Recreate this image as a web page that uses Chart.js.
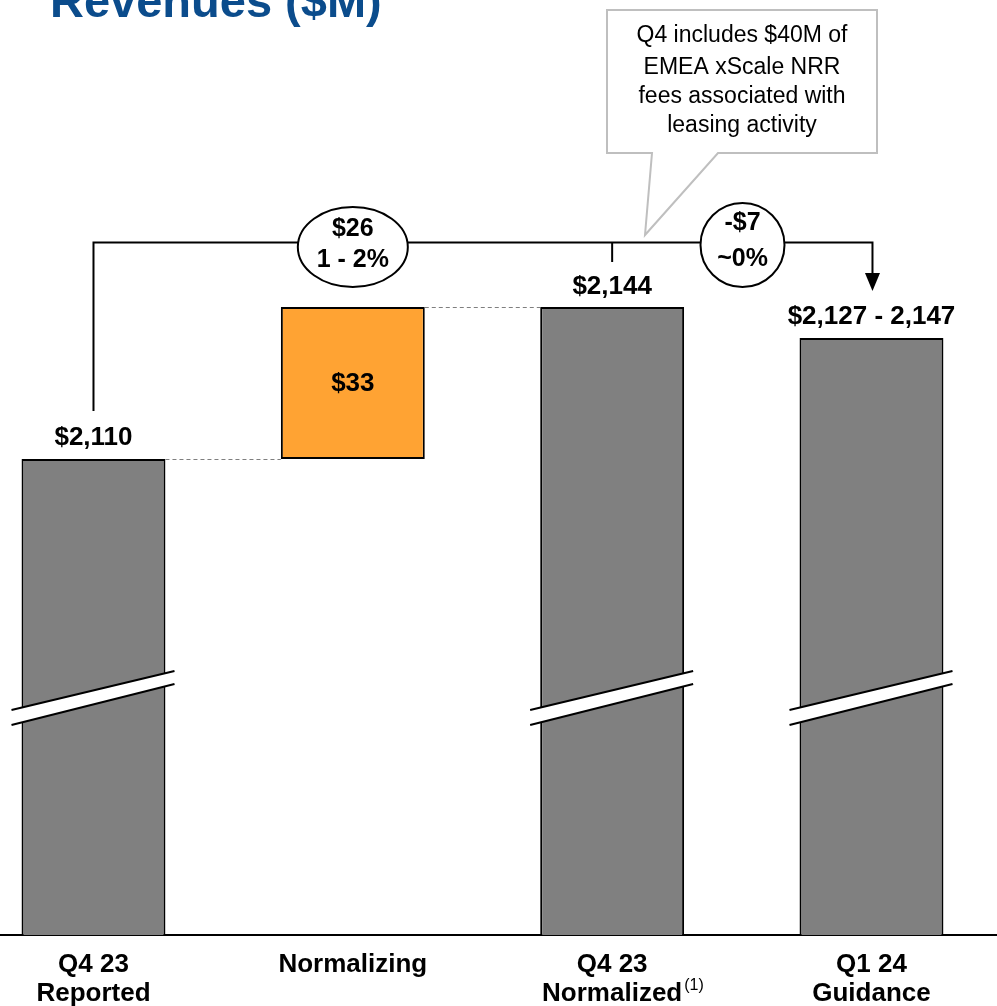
<!DOCTYPE html>
<html>
<head>
<meta charset="utf-8">
<title>Revenues ($M)</title>
<script src="https://cdn.jsdelivr.net/npm/chart.js@4.4.1/dist/chart.umd.min.js"></script>
<style>
  html, body { margin: 0; padding: 0; background: #ffffff; }
  canvas { display: block; }
</style>
</head>
<body>
<canvas id="rev" width="997" height="1006"></canvas>
<script>
// Bridge categories (multi-line labels)
const categoryLabels = [['Q4 23', 'Reported'], ['Normalizing'], ['Q4 23', 'Normalized'], ['Q1 24', 'Guidance']];
// Bar values in $M; the normalizing step floats between the two Q4 totals
const barValues = [2110.4, [2110.4, 2143.8], 2143.8, 2137];
const barColors = ['#808080', '#FFA333', '#808080', '#808080'];
// Guidance range shown above the last bar
const guidanceRange = [2127, 2147];
// Change bubbles on the bridge line
const changeLabels = [['$26', '1 - 2%'], ['-$7', '~0%']];
const calloutLines = ['Q4 includes $40M of', 'EMEA xScale NRR', 'fees associated with', 'leasing activity'];
const brokenBars = [0, 2, 3];

const FONT = '"Liberation Sans", Arial, Helvetica, sans-serif';
const fmt = v => '$' + Math.round(v).toLocaleString('en-US');

const overlay = {
  id: 'bridgeOverlay',
  afterDatasetsDraw(chart) {
    const ctx = chart.ctx;
    const bars = chart.getDatasetMeta(0).data;
    const y = chart.scales.y;
    const area = chart.chartArea;
    ctx.save();

    // dashed connectors between consecutive bar tops
    ctx.strokeStyle = '#7f7f7f';
    ctx.lineWidth = 1;
    ctx.setLineDash([4, 3]);
    const conn = (a, b, v) => {
      const py = Math.round(y.getPixelForValue(v)) + 0.5;
      ctx.beginPath();
      ctx.moveTo(bars[a].x + bars[a].width / 2, py);
      ctx.lineTo(bars[b].x - bars[b].width / 2, py);
      ctx.stroke();
    };
    conn(0, 1, barValues[0]);
    conn(1, 2, barValues[1][1]);
    ctx.setLineDash([]);

    // axis-break marks across the tall bars
    brokenBars.forEach(i => {
      const cx = bars[i].x;
      const xl = cx - 82, xr = cx + 81;
      ctx.beginPath();
      ctx.moveTo(xl, 710); ctx.lineTo(xr, 671); ctx.lineTo(xr, 684); ctx.lineTo(xl, 725);
      ctx.closePath();
      ctx.fillStyle = '#ffffff';
      ctx.fill();
      ctx.strokeStyle = '#000000';
      ctx.lineWidth = 2;
      ctx.beginPath(); ctx.moveTo(xl, 710); ctx.lineTo(xr, 671); ctx.stroke();
      ctx.beginPath(); ctx.moveTo(xl, 725); ctx.lineTo(xr, 684); ctx.stroke();
    });

    // value labels
    ctx.fillStyle = '#000000';
    ctx.font = 'bold 26px ' + FONT;
    ctx.textAlign = 'center';
    ctx.textBaseline = 'middle';
    ctx.fillText(fmt(barValues[0]), bars[0].x, bars[0].y - 21);
    ctx.fillText(fmt(barValues[1][1] - barValues[1][0]), bars[1].x, (bars[1].y + bars[1].base) / 2 + 1);
    ctx.fillText(fmt(barValues[2]), bars[2].x, bars[2].y - 20);
    ctx.fillText(fmt(guidanceRange[0]) + ' - ' + Math.round(guidanceRange[1]).toLocaleString('en-US'), bars[3].x, bars[3].y - 21);

    // category labels under the axis
    categoryLabels.forEach((lines, i) => {
      lines.forEach((t, j) => ctx.fillText(t, bars[i].x, area.bottom + 30 + j * 29));
    });
    // footnote marker after "Normalized"
    const w = ctx.measureText(categoryLabels[2][1]).width;
    ctx.font = '16px ' + FONT;
    ctx.textAlign = 'left';
    ctx.fillText('(1)', bars[2].x + w / 2 + 2, area.bottom + 51);
    ctx.textAlign = 'center';

    // bridge line from first bar to guidance bar
    const lineY = 242.5;
    const ax = bars[3].x + 1;
    ctx.strokeStyle = '#000000';
    ctx.lineWidth = 2;
    ctx.beginPath();
    ctx.moveTo(bars[0].x, bars[0].y - 48);
    ctx.lineTo(bars[0].x, lineY);
    ctx.lineTo(ax, lineY);
    ctx.lineTo(ax, 274);
    ctx.stroke();
    ctx.beginPath();
    ctx.moveTo(ax - 7.5, 273);
    ctx.lineTo(ax + 7.5, 273);
    ctx.lineTo(ax, 291);
    ctx.closePath();
    ctx.fillStyle = '#000000';
    ctx.fill();
    // tick above the normalized bar
    ctx.beginPath();
    ctx.moveTo(bars[2].x, lineY);
    ctx.lineTo(bars[2].x, 262);
    ctx.stroke();

    // change bubbles
    const bubble = (cx, cy, rx, ry, lines, ty) => {
      ctx.beginPath();
      ctx.ellipse(cx, cy, rx, ry, 0, 0, Math.PI * 2);
      ctx.fillStyle = '#ffffff';
      ctx.fill();
      ctx.strokeStyle = '#000000';
      ctx.lineWidth = 2;
      ctx.stroke();
      ctx.fillStyle = '#000000';
      ctx.font = 'bold 25px ' + FONT;
      ctx.fillText(lines[0], cx, ty[0]);
      ctx.fillText(lines[1], cx, ty[1]);
    };
    bubble(bars[1].x, 247, 55, 40, changeLabels[0], [229, 260]);
    bubble(742.5, 245, 42, 42, changeLabels[1], [223, 259]);

    // callout box with pointer
    ctx.beginPath();
    ctx.moveTo(607, 10); ctx.lineTo(877, 10); ctx.lineTo(877, 153);
    ctx.lineTo(718, 153); ctx.lineTo(645, 235); ctx.lineTo(652, 153);
    ctx.lineTo(607, 153); ctx.closePath();
    ctx.fillStyle = '#ffffff';
    ctx.fill();
    ctx.strokeStyle = '#BFBFBF';
    ctx.lineWidth = 2;
    ctx.stroke();
    ctx.fillStyle = '#000000';
    ctx.font = '23px ' + FONT;
    const cy = [36, 68, 97, 126];
    calloutLines.forEach((t, i) => ctx.fillText(t, 742, cy[i]));

    // title
    ctx.font = 'bold 47px ' + FONT;
    ctx.textAlign = 'left';
    ctx.textBaseline = 'alphabetic';
    ctx.fillStyle = '#0B4C8C';
    ctx.fillText('Revenues ($M)', 50, 17);

    ctx.restore();
  }
};

new Chart(document.getElementById('rev'), {
  type: 'bar',
  data: {
    datasets: [{
      data: barValues.map((v, i) => ({ x: i, y: v })),
      backgroundColor: barColors,
      borderColor: '#000000',
      borderWidth: 2,
      borderSkipped: false,
      barPercentage: 0.555,
      categoryPercentage: 1
    }]
  },
  options: {
    responsive: false,
    animation: false,
    devicePixelRatio: 1,
    layout: { padding: { left: 0, right: 0, top: 0, bottom: 71 } },
    plugins: { legend: { display: false }, tooltip: { enabled: false } },
    scales: {
      x: {
        type: 'linear',
        offset: false,
        bounds: 'data',
        min: -0.3605,
        max: 3.484,
        // one tick per category so bar widths follow the category spacing
        afterBuildTicks: s => { s.ticks = categoryLabels.map((_, i) => ({ value: i })); },
        grid: { display: true, drawOnChartArea: false, drawTicks: false },
        border: { display: true, color: '#000000', width: 2 },
        ticks: { display: false }
      },
      y: {
        display: false,
        min: 2005.8,
        max: 2211.3
      }
    }
  },
  plugins: [overlay]
});
</script>
</body>
</html>
